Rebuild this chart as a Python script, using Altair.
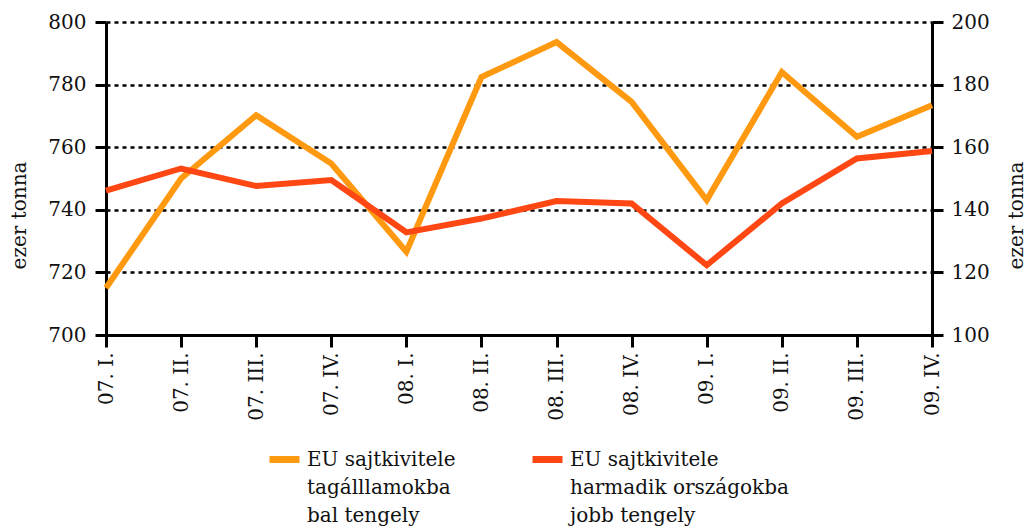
import altair as alt
import pandas as pd

quarters = ["07. I.", "07. II.", "07. III.", "07. IV.",
            "08. I.", "08. II.", "08. III.", "08. IV.",
            "09. I.", "09. II.", "09. III.", "09. IV."]
eu_internal = [715.0, 750.0, 770.2, 754.8, 726.6, 782.4, 793.6, 774.5, 743.1, 784.0, 763.3, 773.4]
third_countries = [146.1, 153.2, 147.6, 149.5, 132.8, 137.2, 142.8, 142.0, 122.3, 142.0, 156.4, 158.8]

name_internal = "EU sajtkivitele|tagálllamokba|bal tengely"
name_third = "EU sajtkivitele|harmadik országokba|jobb tengely"
left_ticks = [700, 720, 740, 760, 780, 800]
right_ticks = [100, 120, 140, 160, 180, 200]

ORANGE = "#FF9910"
RED = "#FF4713"
FONT = "DejaVu Serif"
FS = 20
TXT = "#111111"

df = pd.DataFrame({
    "q": quarters,
    "a": eu_internal,
    "b": third_countries,
    "s1": [name_internal] * len(quarters),
    "s2": [name_third] * len(quarters),
})

x_enc = alt.X(
    "q:N", sort=quarters,
    scale=alt.Scale(type="point", padding=0),
    axis=alt.Axis(title=None, labelAngle=-90, labelAlign="right", labelBaseline="middle",
                  labelPadding=5, tickSize=12, grid=False,
                  domainColor="black", domainWidth=3, tickColor="black", tickWidth=3,
                  labelFont=FONT, labelFontSize=FS, labelColor=TXT),
)

def legend(x, y):
    return alt.Legend(orient="none", legendX=x, legendY=y, title=None,
                      labelExpr="split(datum.label, '|')",
                      symbolType="stroke", symbolSize=900, symbolStrokeWidth=7,
                      labelFont=FONT, labelFontSize=FS,
                      labelColor=TXT, labelLimit=400, labelOffset=4,
                      labelBaseline="middle", padding=0)

def yaxis(orient, values, title_x, grid, pad):
    return alt.Axis(orient=orient, values=values, title="ezer tonna",
                    grid=grid, gridColor="black", gridDash=[4, 4], gridWidth=2.5,
                    domainColor="black", domainWidth=3, tickColor="black", tickWidth=3,
                    tickSize=11, labelPadding=pad,
                    labelFont=FONT, labelFontSize=FS, labelColor=TXT,
                    titleFont=FONT, titleFontSize=FS, titleColor=TXT, titleFontWeight="normal",
                    titleX=title_x, titleY=193, titleAngle=-90,
                    titleAlign="center", titleBaseline="alphabetic")

left = alt.Chart(df).mark_line(strokeWidth=6, strokeJoin="miter").encode(
    x=x_enc,
    y=alt.Y("a:Q", scale=alt.Scale(domain=[700, 800], nice=False, zero=False),
            axis=yaxis("left", left_ticks, -81, True, 9)),
    color=alt.Color("s1:N", scale=alt.Scale(domain=[name_internal], range=[ORANGE]),
                    legend=legend(160, 419)),
)

right = alt.Chart(df).mark_line(strokeWidth=6, strokeJoin="miter").encode(
    x=x_enc,
    y=alt.Y("b:Q", scale=alt.Scale(domain=[100, 200], nice=False, zero=False),
            axis=yaxis("right", right_ticks, 90, False, 8)),
    color=alt.Color("s2:N", scale=alt.Scale(domain=[name_third], range=[RED]),
                    legend=legend(423, 419)),
)

chart = alt.layer(left, right).resolve_scale(
    y="independent", color="independent"
).properties(
    width=826, height=313,
    autosize=alt.AutoSizeParams(type="none"),
    padding={"left": 98, "top": 14, "right": 95, "bottom": 194},
).configure(
    font=FONT,
    style={"guide-label": {"lineHeight": 28}},
).configure_view(stroke=None).configure_axis(
    domainColor="black", domainWidth=3, tickColor="black", tickWidth=3,
)

chart.save("out.html", embed_options={"renderer": "svg", "actions": False})
